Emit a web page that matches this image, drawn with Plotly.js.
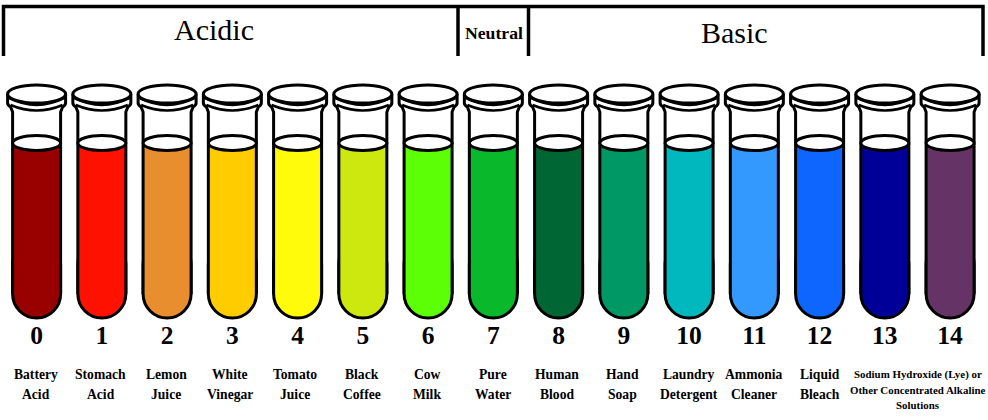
<!DOCTYPE html>
<html>
<head>
<meta charset="utf-8">
<script src="https://cdn.plot.ly/plotly-3.0.1.min.js"></script>
<style>html,body{margin:0;padding:0;background:#fff}#chart{width:988px;height:420px}</style>
</head>
<body>
<div id="chart"></div>
<script>
// ---- data ----
const phValues = [0,1,2,3,4,5,6,7,8,9,10,11,12,13,14];
const liquidColors = ['#990000','#ff1100','#e98e2e','#ffcc00','#fffb0a','#cce80e','#5cff05','#09b82b','#006633','#009966','#00b8bd','#3399ff','#0f66ff','#000099','#663366'];
const labelLine1 = ['Battery','Stomach','Lemon','White','Tomato','Black','Cow','Pure','Human','Hand','Laundry','Ammonia','Liquid','Sodium Hydroxide (Lye) or','' ];
const labelLine2 = ['Acid','Acid','Juice','Vinegar','Juice','Coffee','Milk','Water','Blood','Soap','Detergent','Cleaner','Bleach','Other Concentrated Alkaline',''];
const labelLine3 = ['','','','','','','','','','','','','','Solutions',''];
const groupNames = ['Acidic','Neutral','Basic'];

// ---- layout constants (pixels) ----
const X0 = 36.6, STEP = 65.25;
const toX = px => (px - X0) / STEP;
const dx = px => px / STEP;
const LIQ_TOP = 143, TUBE_BOTTOM = 318, BOWL_TOP = 240, WALL_END = 294;
const labelShift = [-0.4,-1,-1,-2.5,-2.5,-1,-1,0,-1.5,-1.5,0,0,0,33,0];
const LW = 3;
const black = '#000';

const shapes = [];
function addPath(path, extra){
  shapes.push(Object.assign({type:'path', xref:'x', yref:'y', path, line:{color:black,width:LW}, fillcolor:'rgba(0,0,0,0)'}, extra||{}));
}
function P(c, x, y){ return (c + dx(x)) + ',' + y; }

phValues.forEach(ph => {
  const c = ph;
  // tube walls, running down to the rounded bottom
  addPath(`M${P(c,-29,94)} L${P(c,-29,103)} Q${P(c,-29,105)} ${P(c,-26,107)} L${P(c,-24,112)} L${P(c,-24,WALL_END)}`);
  addPath(`M${P(c,29,94)} L${P(c,29,103)} Q${P(c,29,105)} ${P(c,26,107)} L${P(c,24,112)} L${P(c,24,WALL_END)}`);
  // rim curves
  addPath(`M${P(c,-28,98)} Q${P(c,0,112)} ${P(c,28,98)}`, {line:{color:black,width:2.5}});
  addPath(`M${P(c,-26,105)} Q${P(c,0,116)} ${P(c,26,105)}`, {line:{color:black,width:2.5}});
  // cap ellipse
  shapes.push({type:'circle', xref:'x', yref:'y', x0:c+dx(-29), x1:c+dx(29), y0:85, y1:103, fillcolor:'#fff', line:{color:black,width:LW}});
  // liquid surface
  shapes.push({type:'circle', xref:'x', yref:'y', x0:c+dx(-24), x1:c+dx(24), y0:135.5, y1:150.5, fillcolor:'#fff', line:{color:black,width:LW}});
});

// header bracket
const BR = 3.5;
addPath(`M${toX(3.5)},56 L${toX(3.5)},6.5 L${toX(983)},6.5 L${toX(983)},56`, {line:{color:black,width:BR}});
addPath(`M${toX(458)},6.5 L${toX(458)},56`, {line:{color:black,width:BR}});
addPath(`M${toX(528.5)},6.5 L${toX(528.5)},56`, {line:{color:black,width:BR}});

const SERIF = '"Liberation Serif","Times New Roman",serif';
const annotations = [];
function note(text,x,y,size,weight,xshift){
  annotations.push({text, x, y, xref:'x', yref:'y', showarrow:false, xanchor:'center', yanchor:'middle', xshift:xshift||0,
    font:{family:SERIF,size,color:'#000',weight:weight||400}});
}
note(groupNames[0], toX(213.5), 29, 30);
note(groupNames[1], toX(493.8), 33, 17.7, 700);
note(groupNames[2], toX(734.5), 32, 30);
phValues.forEach(i => {
  const last = labelLine3[i] !== '';
  const size = last ? 10.9 : 13.6;
  const ys = last ? [374,389.5,405] : [374,394];
  if(labelLine1[i]) note(labelLine1[i], i, ys[0], size, 700, labelShift[i]);
  if(labelLine2[i]) note(labelLine2[i], i, ys[1], size, 700, labelShift[i]);
  if(labelLine3[i]) note(labelLine3[i], i, ys[2], size, 700, labelShift[i]);
});

// rounded bowl of each tube, outlined
const bowl = {
  type:'bar', x: phValues,
  base: phValues.map(() => BOWL_TOP),
  y: phValues.map(() => TUBE_BOTTOM - BOWL_TOP),
  width: dx(48),
  marker:{color:liquidColors, line:{color:black,width:LW}, cornerradius:24},
  hoverinfo:'skip'
};
// square column of liquid above the bowl
const liquid = {
  type:'bar', x: phValues,
  base: phValues.map(() => LIQ_TOP),
  y: phValues.map(() => WALL_END - LIQ_TOP),
  width: dx(48),
  marker:{color:liquidColors, line:{width:0}, cornerradius:0},
  hoverinfo:'skip'
};

const layout = {
  width:988, height:420, margin:{l:0,r:0,t:0,b:0},
  paper_bgcolor:'#fff', plot_bgcolor:'rgba(0,0,0,0)',
  showlegend:false, barmode:'overlay',
  xaxis:{range:[toX(0),toX(988)], anchor:'free', position:1-317/420, tickmode:'array', tickvals:phValues, ticktext:phValues.map(String),
    showgrid:false, zeroline:false, showline:false, ticks:'', tickangle:0, tickfont:{family:SERIF,size:25.5,color:'#000',weight:700}, automargin:false},
  yaxis:{range:[420,0], visible:false, showgrid:false, zeroline:false, fixedrange:true},
  shapes, annotations
};
Plotly.newPlot('chart',[bowl,liquid],layout,{displayModeBar:false,staticPlot:true});
</script>
</body>
</html>
